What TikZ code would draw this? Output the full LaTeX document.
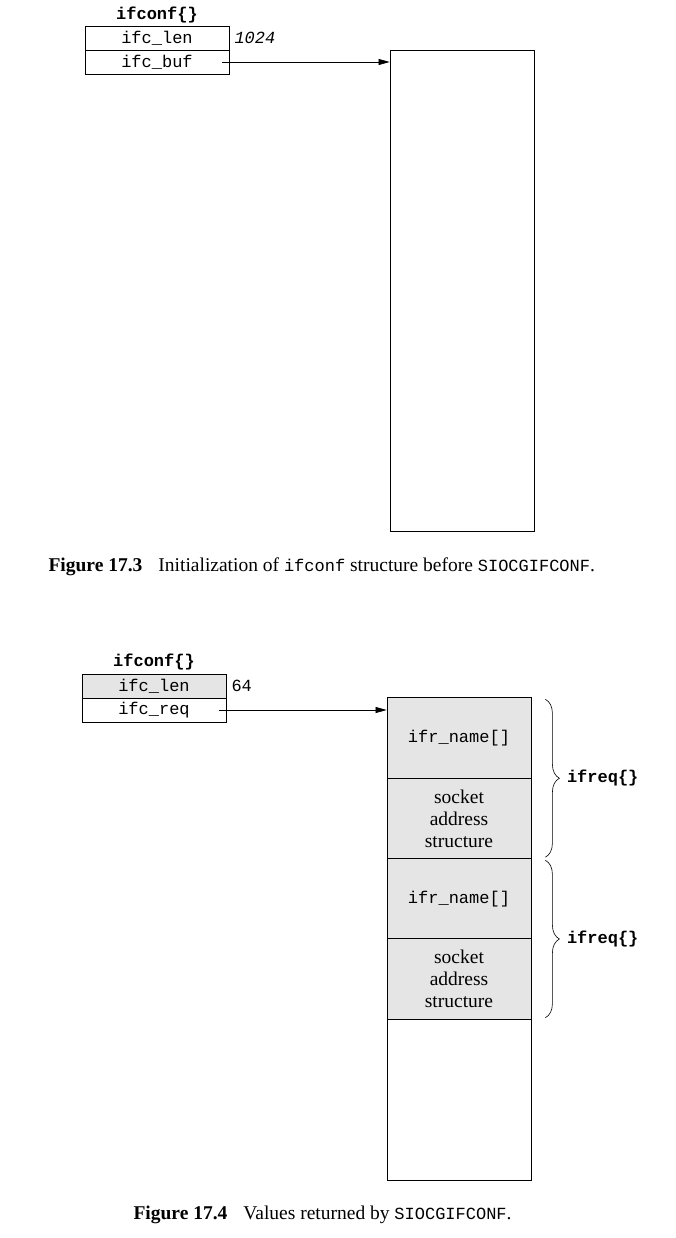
\documentclass[tikz,border=0pt]{standalone}
\usepackage{fontspec}
\setmainfont{Liberation Serif}
\setmonofont{Liberation Mono}
\usetikzlibrary{arrows.meta,decorations.pathreplacing}
\definecolor{cellgray}{gray}{0.9}
\newcommand\figsize{\fontsize{17}{22}\selectfont}
\newcommand\serifsize{\fontsize{19.5}{22}\selectfont}
\newcommand\mono[1]{{\figsize\ttfamily #1}}

\begin{document}
\begin{tikzpicture}[x=1pt, y=-1pt,
    font=\serifsize,
    field/.style={draw, line width=0.8pt, minimum width=144pt, minimum height=24pt,
        inner sep=0pt, font=\figsize\ttfamily},
    cell/.style={draw, line width=0.8pt, fill=cellgray, minimum width=144pt,
        minimum height=80.5pt, inner sep=0pt, align=center, font=\serifsize},
    title/.style={font=\figsize\ttfamily\bfseries},
    caption/.style={anchor=west, font=\serifsize},
    ptr/.style={line width=0.6pt, -{Triangle[length=11pt,width=6pt]}},
    brace/.style={decorate, decoration={brace, amplitude=14pt}, line width=0.6pt}]
    \useasboundingbox (0,0) rectangle (676,1238);
    % Figure 17.3
    \node[title] (conftop) at (157,15) {ifconf\{\}};
    \node[field] (lentop) at (157,38) {ifc\_len};
    \node[field] (buftop) at (157,62) {ifc\_buf};
    \node[anchor=west, font=\figsize\ttfamily\itshape] (lenvaltop) at (231,38) {1024};
    \node[draw, line width=0.8pt, minimum width=144pt, minimum height=481pt] (area) at (462,290.5) {};
    \draw[ptr] ([xshift=-7pt]buftop.east) -- (buftop.east -| area.west);
    \node[caption] (captop) at (45,567)
        {\textbf{Figure 17.3}\hspace{16pt}Initialization of \mono{ifconf} structure before \mono{SIOCGIFCONF}.};
    % Figure 17.4
    \node[title] (conf) at (154,662) {ifconf\{\}};
    \node[field, fill=cellgray] (len) at (154,686) {ifc\_len};
    \node[field] (req) at (154,710) {ifc\_req};
    \node[anchor=west, font=\figsize\ttfamily] (lenval) at (228,686) {64};
    \node[cell] (nameone) at (459,738) {\mono{ifr\_name[]}};
    \node[cell] (sockone) at (459,818.5) {socket\\address\\structure};
    \node[cell] (nametwo) at (459,899) {\mono{ifr\_name[]}};
    \node[cell] (socktwo) at (459,979) {socket\\address\\structure};
    \node[draw, line width=0.8pt, minimum width=144pt, minimum height=161pt] (rest) at (459,1099.5) {};
    \draw[ptr] ([xshift=-7pt]req.east) -- (req.east -| nameone.west);
    \draw[brace] ([xshift=14pt, yshift=-2pt]nameone.north east) -- ([xshift=14pt, yshift=2pt]sockone.south east)
        node[midway, anchor=west, xshift=18pt, title] (reqone) {ifreq\{\}};
    \draw[brace] ([xshift=14pt, yshift=-2pt]nametwo.north east) -- ([xshift=14pt, yshift=2pt]socktwo.south east)
        node[midway, anchor=west, xshift=18pt, title] (reqtwo) {ifreq\{\}};
    \node[caption] (cap) at (130,1215)
        {\textbf{Figure 17.4}\hspace{16pt}Values returned by \mono{SIOCGIFCONF}.};
\end{tikzpicture}
\end{document}
